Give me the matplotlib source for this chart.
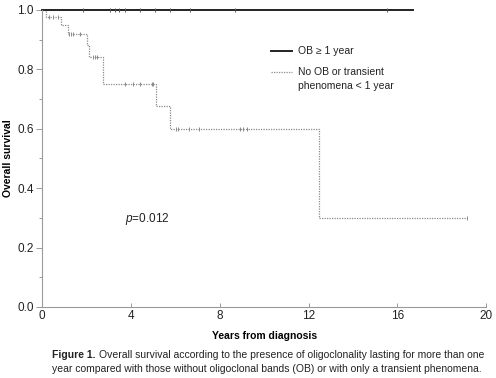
import matplotlib
matplotlib.use('Agg')
from matplotlib import pyplot as plt
from matplotlib.ticker import MultipleLocator

plt.rcParams['font.family'] = ['Liberation Sans', 'DejaVu Sans']
plt.rcParams['mathtext.fontset'] = 'custom'
plt.rcParams['mathtext.rm'] = 'Liberation Sans'
plt.rcParams['mathtext.it'] = 'Liberation Sans:italic'

# OB >= 1 year: no events, censored follow-up times
ob_end = 16.7
ob_censor = [1.83, 3.06, 3.29, 3.44, 3.74, 4.41, 5.09, 5.77, 6.67, 8.69, 15.53]

# No OB or transient phenomena < 1 year: event times and survival after each
no_times = [0.0, 0.18, 0.86, 1.15, 2.04, 2.13, 2.76, 5.12, 5.78, 12.45]
no_surv = [1.0, 0.976, 0.948, 0.92, 0.882, 0.84, 0.752, 0.677, 0.60, 0.30]
no_end = 19.16
no_censor = [0.32, 0.51, 0.73, 1.2, 1.32, 1.41, 1.71, 2.28, 2.39, 2.46,
             3.74, 4.11, 4.41, 4.94, 5.01, 6.02, 6.14, 6.62, 7.07,
             8.92, 9.07, 9.22, 19.16]


def surv_at(t):
    s = 1.0
    for tt, ss in zip(no_times, no_surv):
        if tt <= t:
            s = ss
    return s


fig = plt.figure(figsize=(4.96, 3.78), dpi=100)
ax = fig.add_axes([0.085, 0.188, 0.895, 0.786])

grey = '#8a8a8a'
ax.step(no_times + [no_end], no_surv + [no_surv[-1]], where='post',
        color=grey, lw=0.9, ls=(0, (1, 1)), clip_on=False)
ax.plot(no_censor, [surv_at(t) for t in no_censor], ls='none', marker='|',
        ms=3, mew=0.7, color=grey, clip_on=False)

ax.plot([0, ob_end], [1.0, 1.0], color='#222222', lw=1.4, clip_on=False)
ax.plot(ob_censor, [1.0] * len(ob_censor), ls='none', marker='|',
        ms=3, mew=0.7, color='#555555', clip_on=False)

ax.set_xlim(0, 20)
ax.set_ylim(0, 1.0)
ax.xaxis.set_major_locator(MultipleLocator(4))
ax.yaxis.set_major_locator(MultipleLocator(0.2))
ax.yaxis.set_minor_locator(MultipleLocator(0.1))
ax.yaxis.set_major_formatter(plt.FuncFormatter(lambda v, p: '%.1f' % v))

for s in ['top', 'right']:
    ax.spines[s].set_visible(False)
for s in ['left', 'bottom']:
    ax.spines[s].set_color('#9a9a9a')
    ax.spines[s].set_linewidth(0.8)
ax.tick_params(axis='both', which='both', color='#9a9a9a', labelsize=8.5,
               labelcolor='#222222', width=0.7)
ax.tick_params(axis='x', direction='in', length=3, pad=2)
ax.tick_params(axis='y', which='major', length=4, pad=2)
ax.tick_params(axis='y', which='minor', length=2.5)

ax.set_xlabel('Years from diagnosis', fontsize=7.5, fontweight='bold', labelpad=7)
ax.set_ylabel('Overall survival', fontsize=7.5, fontweight='bold')
ax.yaxis.set_label_coords(-0.066, 0.5)

# legend drawn by hand to match the two-line label layout
lx0, lx1, tx = 0.516, 0.563, 0.577
ax.plot([lx0, lx1], [0.862, 0.862], transform=ax.transAxes, color='#222222', lw=1.4)
ax.text(tx, 0.862, 'OB \u2265 1 year', transform=ax.transAxes, fontsize=7.5,
        va='center', color='#222222')
ax.plot([lx0, lx1], [0.79, 0.79], transform=ax.transAxes, color=grey, lw=0.9,
        ls=(0, (1, 1)))
ax.text(tx, 0.79, 'No OB or transient', transform=ax.transAxes,
        fontsize=7.5, va='center', color='#222222')
ax.text(tx, 0.744, 'phenomena < 1 year', transform=ax.transAxes,
        fontsize=7.5, va='center', color='#222222')

ax.text(3.74, 0.296, r'$\mathit{p}$=0.012', fontsize=8.5, va='center',
        color='#222222')

# caption: bold lead-in followed by regular text
cap_size = 7.5
lead = fig.text(0.105, 0.061, 'Figure 1.', fontsize=cap_size, fontweight='bold',
                color='#222222', va='center')
fig.canvas.draw()
bb = lead.get_window_extent()
fig.text(bb.x1 / fig.bbox.width + 0.006, 0.061,
         'Overall survival according to the presence of oligoclonality lasting '
         'for more than one', fontsize=cap_size, color='#222222', va='center')
fig.text(0.105, 0.024, 'year compared with those without oligoclonal bands (OB) or '
         'with only a transient phenomena.', fontsize=cap_size, color='#222222',
         va='center')

fig.savefig('out.png', dpi=100)
